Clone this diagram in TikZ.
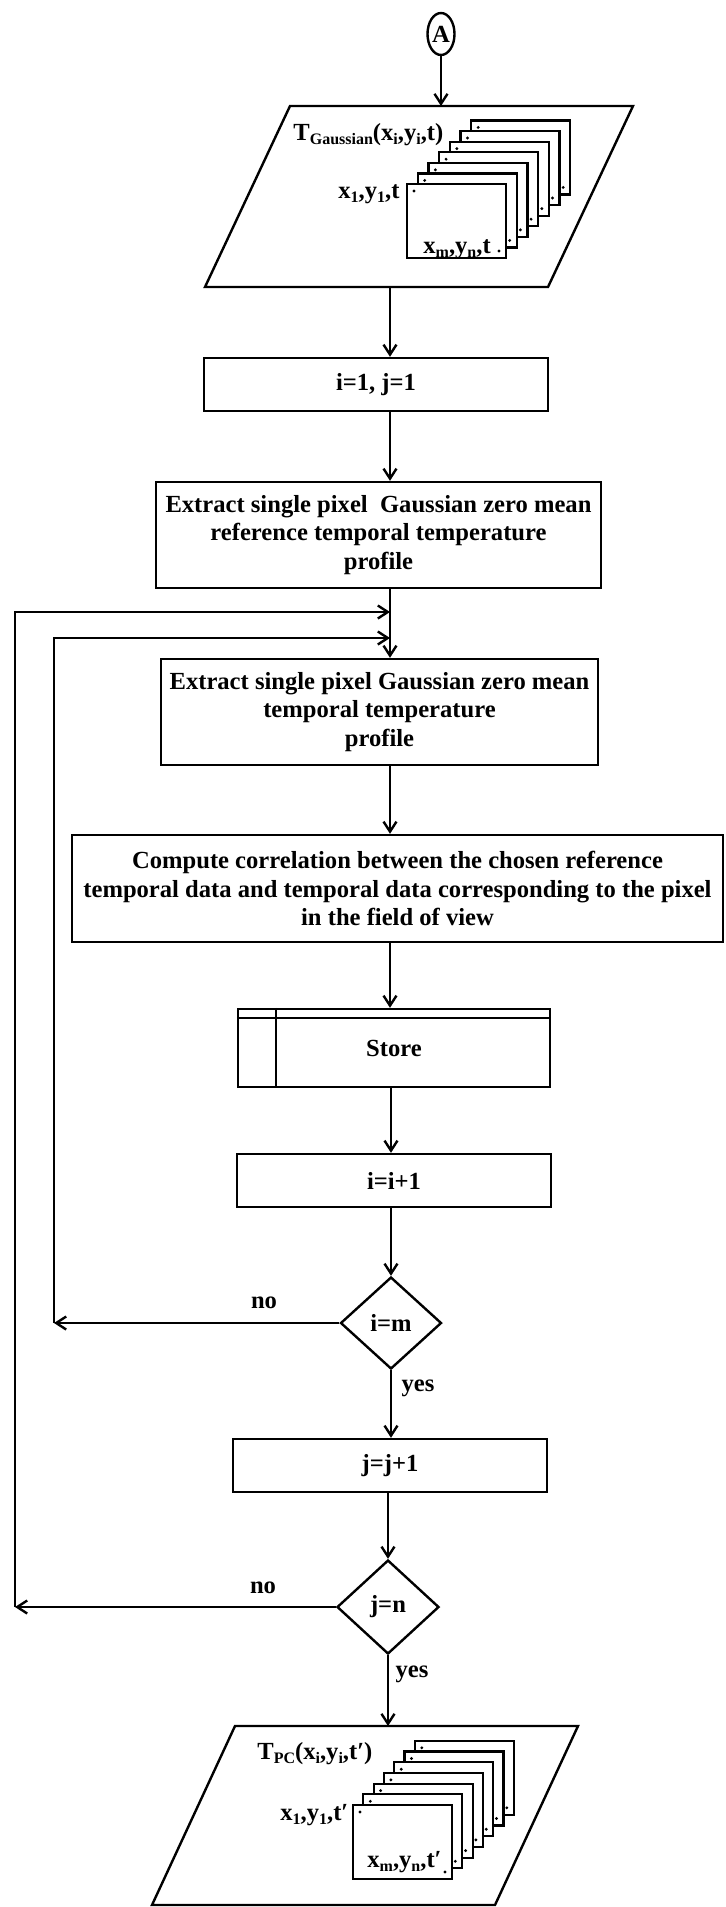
\documentclass[tikz,border=0pt]{standalone}
\usepackage{fontspec}
\setmainfont{Liberation Serif}
\usetikzlibrary{shapes.geometric,arrows.meta,calc}
\newcommand\mysub[1]{\raisebox{-2.2pt}{\fontsize{8}{8}\selectfont #1}}
\newcommand\FrameStack[4]{%
  \foreach \k in {6,5,4,3,2,1,0}{%
    \draw[line width=1.1pt, fill=white] ({#1+\k*#3},{#2-\k*#4}) rectangle ++(99,74);
    \fill ({#1+\k*#3+7},{#2-\k*#4+7}) circle (0.8pt);
    \fill ({#1+\k*#3+92},{#2-\k*#4+67}) circle (0.8pt);
  }}
\begin{document}
\begin{tikzpicture}[x=0.5pt,y=-0.5pt,
  every node/.style={font=\fontsize{12.3}{14.3}\selectfont\bfseries, inner sep=0pt},
  lw/.style={line width=1.2pt},
  procbox/.style={draw, lw, rectangle, align=center},
  decision/.style={draw, lw, diamond, aspect=1.1},
  arr/.style={lw, -{Straight Barb[length=5pt,width=6.5pt]}}]
\useasboundingbox (0,0) rectangle (725,1907);

% connector
\node[draw, lw, ellipse, minimum width=13.5pt, minimum height=21pt] (A) at (441,34) {A};

% input parallelogram
\coordinate (P1a) at (290,106);
\coordinate (P1b) at (633,106);
\coordinate (P1c) at (548,287);
\coordinate (P1d) at (205,287);
\draw[lw] (P1a) -- (P1b) -- (P1c) -- (P1d) -- cycle;
\coordinate (colA) at (390,0);

\FrameStack{407}{184}{10.7}{10.6}
\node[anchor=base west] (tg) at (293,140) {T\mysub{Gaussian}(x\mysub{i},y\mysub{i},t)};
\node[anchor=base west] (f1a) at (338,198) {x\mysub{1},y\mysub{1},t};
\node[anchor=base west] (f1b) at (423,253) {x\mysub{m},y\mysub{n},t};

% process boxes
\node[procbox, minimum width=172pt, minimum height=26.5pt] (b1) at (376,384.5) {i=1, j=1};
\node[procbox, minimum width=222.5pt, minimum height=53pt] (e1) at (378.5,535)
  {Extract single pixel~ Gaussian zero mean\\reference temporal temperature\\profile};
\node[procbox, minimum width=218.5pt, minimum height=53pt] (e2) at (379.5,712)
  {Extract single pixel Gaussian zero mean\\temporal temperature\\profile};
\node[procbox, minimum width=325.5pt, minimum height=53.5pt] (c) at (397.5,888.5)
  {Compute correlation between the chosen reference\\temporal data and temporal data corresponding to the pixel\\in the field of view};
\node[procbox, minimum width=156pt, minimum height=39pt] (st) at (394,1048) {Store};
\draw[lw] ($(st.north west)+(0,10)$) -- ($(st.north east)+(0,10)$);
\draw[lw] ($(st.north west)+(39,0)$) -- ($(st.south west)+(39,0)$);
\node[procbox, minimum width=157pt, minimum height=26.5pt] (ip) at (394,1180.5) {i=i+1};
\node[decision, minimum width=50.5pt, minimum height=46pt] (dm) at (391,1323) {i=m};
\node[procbox, minimum width=157pt, minimum height=26.5pt] (jp) at (390,1465.5) {j=j+1};
\node[decision, minimum width=51pt, minimum height=47pt] (dn) at (388,1607) {j=n};

% output parallelogram
\coordinate (P2a) at (235,1726);
\coordinate (P2b) at (578,1726);
\coordinate (P2c) at (495,1905);
\coordinate (P2d) at (152,1905);
\draw[lw] (P2a) -- (P2b) -- (P2c) -- (P2d) -- cycle;
\FrameStack{353}{1805}{10.3}{10.7}
\node[anchor=base west] (tp) at (257,1759) {T\mysub{PC}(x\mysub{i},y\mysub{i},t′)};
\node[anchor=base west] (f2a) at (280,1820) {x\mysub{1},y\mysub{1},t′};
\node[anchor=base west] (f2b) at (367,1867) {x\mysub{m},y\mysub{n},t′};

% main flow
\draw[arr] (A.south) -- (A.south |- P1a);
\draw[arr] (P1d -| colA) -- (b1.north -| colA);
\draw[arr] (b1.south -| colA) -- (e1.north -| colA);
\draw[arr] (e1.south -| colA) -- (e2.north -| colA);
\draw[arr] (e2.south -| colA) -- (c.north -| colA);
\draw[arr] (c.south -| colA) -- (st.north -| colA);
\draw[arr] (st.south -| dm.north) -- (ip.north -| dm.north);
\draw[arr] (ip.south -| dm.north) -- (dm.north);
\draw[arr] (dm.south) -- (jp.north -| dm.south);
\draw[arr] (jp.south -| dn.north) -- (dn.north);
\draw[arr] (dn.south) -- (P2a -| dn.south);

% loops
\coordinate (outerTop) at (15,612);
\coordinate (innerTop) at (54,638);
\draw[arr] (dm.west) -- (dm.west -| innerTop);
\draw[arr] (dm.west -| innerTop) -- (innerTop) -- (innerTop -| colA);
\draw[arr] (dn.west) -- (dn.west -| outerTop);
\draw[arr] (dn.west -| outerTop) -- (outerTop) -- (outerTop -| colA);

% labels
\node (no1) at (264,1303) {no};
\node (yes1) at (418,1388) {yes};
\node (no2) at (263,1588) {no};
\node (yes2) at (412,1674) {yes};
\end{tikzpicture}
\end{document}
